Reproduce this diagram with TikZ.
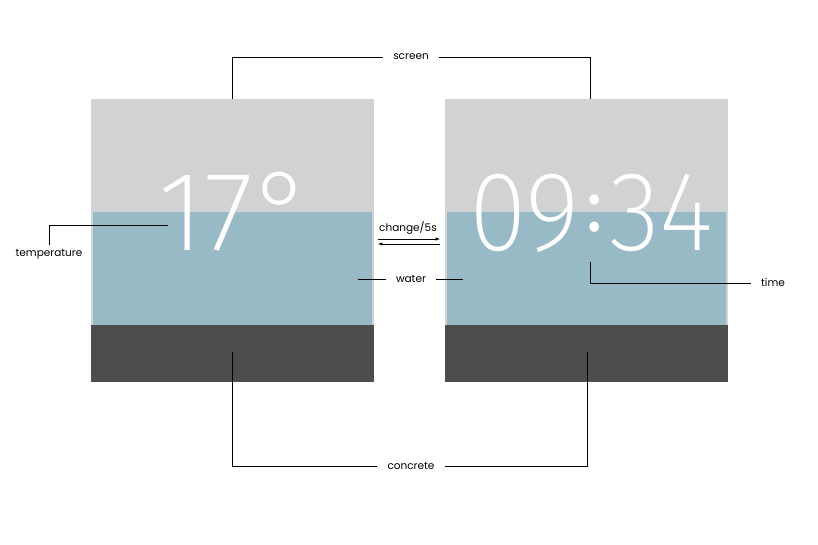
\documentclass[tikz,border=0pt]{standalone}
\usepackage{fontspec}
\setmainfont{Poppins}
\newfontfamily\digitfont{Fira Sans ExtraLight}
\newfontfamily\colonfont{Fira Sans}
\definecolor{screengray}{HTML}{D1D2D4}
\definecolor{watercol}{HTML}{98BAC6}
\definecolor{concretecol}{HTML}{4D4D4D}
\newcommand{\midcolon}{\hspace{7pt}\raisebox{18pt}{\colonfont\fontsize{74}{74}\selectfont :}\hspace{7pt}}
\tikzset{
  lbl/.style={inner xsep=10pt,inner ysep=4pt,font=\fontsize{10.5}{12}\selectfont},
  digits/.style={anchor=base,text=white,inner sep=0,font=\digitfont\fontsize{113}{113}\selectfont},
  leader/.style={line width=0.9pt}
}
\begin{document}
\begin{tikzpicture}[x=1pt,y=-1pt,inner sep=0,arrows=-latex]
		\useasboundingbox (0,0) rectangle (818,545);
		% left panel
		\fill[screengray] (91,99) rectangle (374,325);
		\fill[watercol] (93,212) rectangle (372,325);
		\fill[concretecol] (91,325) rectangle (374,382);
		% right panel
		\fill[screengray] (445,99) rectangle (728,325);
		\fill[watercol] (447,212) rectangle (726,325);
		\fill[concretecol] (445,325) rectangle (728,382);
		\node[digits] (deg) at (236,250) {17°};
		\node[digits,xscale=0.93] (clock) at (591,250) {09\midcolon34};
		\node[lbl] (screen) at (411,57) {screen};
		\node[lbl] (temp) at (49,254) {temperature};
		\node[lbl] (water) at (411,279) {water};
		\node[lbl,inner sep=0] (change) at (408,228) {change/5s};
		\node[lbl] (time) at (773,283) {time};
		\node[lbl] (concrete) at (411,466) {concrete};
		\coordinate (scrL) at (232,99);
		\coordinate (scrR) at (590,99);
		\coordinate (tempP) at (168,225);
		\coordinate (waterL) at (358,279);
		\coordinate (waterR) at (463,279);
		\coordinate (timeP) at (590,262);
		\coordinate (conL) at (232,352);
		\coordinate (conR) at (587,352);
		\coordinate (chgA) at (378,239);
		\coordinate (chgB) at (440,239);
		\coordinate (chgC) at (440,244);
		\coordinate (chgD) at (378,244);
		\draw[leader,-] (screen.west) -| (scrL);
		\draw[leader,-] (screen.east) -| (scrR);
		\draw[leader,-] (tempP) -| (temp.north);
		\draw[leader,-] (waterL) -- (water.west);
		\draw[leader,-] (water.east) -- (waterR);
		\draw[leader,-] (timeP) |- (time.west);
		\draw[leader,-] (concrete.west) -| (conL);
		\draw[leader,-] (concrete.east) -| (conR);
		\draw[line width=0.5pt] (chgA) -- (chgB);
		\draw[line width=0.5pt] (chgC) -- (chgD);
	\end{tikzpicture}
\end{document}
